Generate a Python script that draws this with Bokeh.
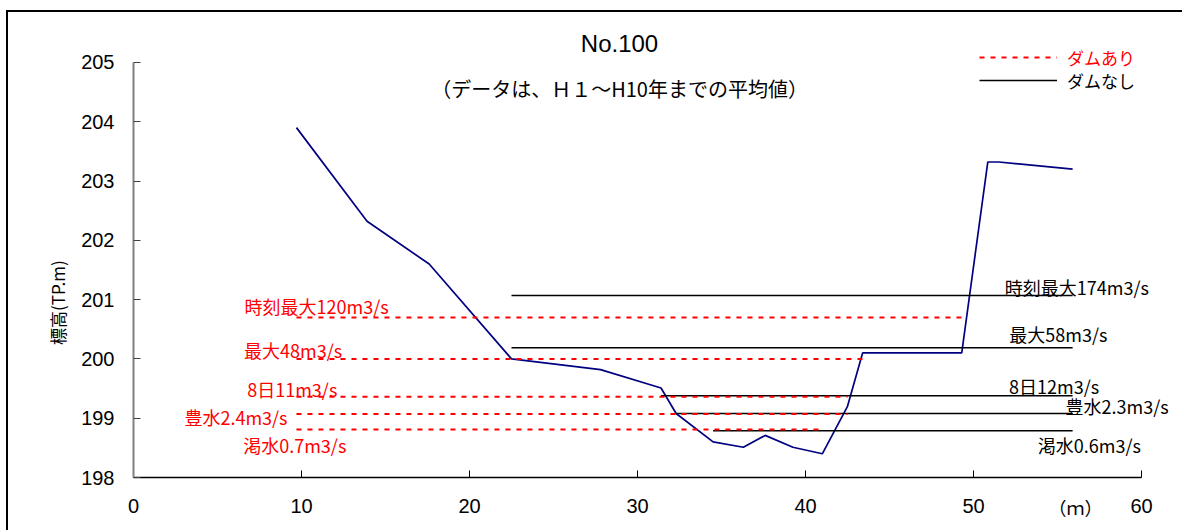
import math
from bokeh.plotting import figure
from bokeh.models import (Range1d, FixedTicker, Label, LabelSet, ColumnDataSource,
                          Legend, LegendItem)
from bokeh.embed import file_html
from bokeh.resources import INLINE
from bokeh.core.properties import value

# ---------------- data ----------------
profile_x = [9.7, 13.9, 17.6, 22.5, 27.8, 31.4, 32.3, 34.5, 36.3, 37.6, 39.25, 41.0,
             42.5, 43.4, 49.3, 50.85, 51.5, 55.9]
profile_y = [203.9, 202.32, 201.6, 200.0, 199.82, 199.51, 199.08, 198.6, 198.51, 198.71,
             198.51, 198.4, 199.2, 200.1, 200.1, 203.32, 203.32, 203.2]

red_names = ["時刻最大120m3/s", "最大48m3/s", "8日11m3/s", "豊水2.4m3/s", "渇水0.7m3/s"]
red_levels = [200.70, 200.00, 199.36, 199.07, 198.81]
red_from = [9.7, 9.7, 9.7, 9.7, 9.7]
red_to = [49.3, 43.4, 42.5, 42.5, 40.8]

black_names = ["時刻最大174m3/s", "最大58m3/s", "8日12m3/s", "豊水2.3m3/s", "渇水0.6m3/s"]
black_levels = [201.07, 200.19, 199.38, 199.08, 198.79]
black_from = [22.5, 22.5, 31.4, 32.3, 34.5]
black_to = [55.9, 55.9, 55.9, 55.9, 55.9]

x_ticks = [0, 10, 20, 30, 40, 50, 60]
y_ticks = [198, 199, 200, 201, 202, 203, 204, 205]

title_text = "No.100"
subtitle_text = "（データは、Ｈ１～H10年までの平均値）"
y_label_text = "標高(TP.m)"
x_unit_text = "（ｍ）"
legend_with = "ダムあり"
legend_without = "ダムなし"

# ---------------- layout (annotation placement) ----------------
W, H = 1176, 520          # canvas placed at page (8, 12)
AX_LEFT, AX_BOTTOM = 125, 465   # canvas position of the x=0 / y=198 axes
PX_X, PX_Y = 16.8, 59.3
x_start = x_ticks[0] - AX_LEFT / PX_X
x_end = x_ticks[0] + (W - AX_LEFT) / PX_X
y_start = y_ticks[0] - (H - AX_BOTTOM) / PX_Y
y_end = y_ticks[0] + AX_BOTTOM / PX_Y

red_label_x = [10.9, 9.5, 9.45, 6.1, 9.6]
red_label_dy = [11, 9, 8, -3, -16]
black_label_x = [56.15, 55.05, 54.8, 58.55, 56.9]
black_label_dy = [8, 14, 10, 7, -14]

JP = "Noto Sans CJK JP"
LAT = "Liberation Sans"

p = figure(width=W, height=H, output_backend="svg", toolbar_location=None,
           x_range=Range1d(x_start, x_end), y_range=Range1d(y_start, y_end),
           min_border_left=0, min_border_right=0, min_border_bottom=0,
           min_border_top=0)
p.styles = {"margin-left": "8px", "margin-top": "12px",
            "box-shadow": "-2px -2px 0 0 #000000"}
p.outline_line_color = None
p.xgrid.visible = False
p.ygrid.visible = False
p.background_fill_color = "white"
p.border_fill_color = "white"

# axes (fixed inside the frame at x=0 and y=198)
p.xaxis.fixed_location = y_ticks[0]
p.yaxis.fixed_location = x_ticks[0]
p.xaxis.bounds = (x_ticks[0], x_ticks[-1])
p.yaxis.bounds = (y_ticks[0], y_ticks[-1])
p.xaxis.ticker = FixedTicker(ticks=x_ticks)
p.yaxis.ticker = FixedTicker(ticks=y_ticks)
for ax in (p.xaxis, p.yaxis):
    ax.major_tick_in = 7
    ax.major_tick_out = 0
    ax.minor_tick_line_color = None
    ax.major_label_text_font = LAT
    ax.major_label_text_font_size = "20px"
    ax.major_label_text_color = "#000000"
p.xaxis.axis_line_color = "#000000"
p.xaxis.axis_line_width = 1.5
p.xaxis.major_tick_line_color = "#000000"
p.xaxis.major_label_standoff = 21
p.yaxis.axis_line_color = "#808080"
p.yaxis.axis_line_width = 2
p.yaxis.major_tick_line_color = "#404040"
p.yaxis.major_label_standoff = 19

# cross-section profile
p.line(profile_x, profile_y, line_color="#000080", line_width=1.7)

# water levels
red_src = ColumnDataSource(dict(x0=red_from, x1=red_to, y=red_levels, name=red_names,
                                lx=red_label_x, dy=red_label_dy))
black_src = ColumnDataSource(dict(x0=black_from, x1=black_to, y=black_levels, name=black_names,
                                  lx=black_label_x, dy=black_label_dy))
black_r = p.segment(x0="x0", y0="y", x1="x1", y1="y", source=black_src,
                    line_color="#000000", line_width=1.5)
red_r = p.segment(x0="x0", y0="y", x1="x1", y1="y", source=red_src,
                  line_color="#FF0000", line_width=2, line_dash="5 6")

p.add_layout(LabelSet(x="lx", y="y", y_offset="dy", text="name", source=red_src,
                      text_align="center", text_baseline="middle", text_color="#FF0000",
                      text_font=value(JP), text_font_size="18px"))
p.add_layout(LabelSet(x="lx", y="y", y_offset="dy", text="name", source=black_src,
                      text_align="center", text_baseline="middle", text_color="#000000",
                      text_font=value(JP), text_font_size="18px"))

# titles
p.add_layout(Label(x=28.93, y=205.32, text=title_text, text_align="center",
                   text_baseline="middle", text_font=LAT, text_font_size="24px",
                   text_color="#000000"))
p.add_layout(Label(x=28.93, y=204.56, text=subtitle_text, text_align="center",
                   text_baseline="middle", text_font=JP, text_font_size="20px",
                   text_color="#000000"))
p.add_layout(Label(x=-4.52, y=200.95, text=y_label_text, angle=math.pi / 2,
                   text_align="center", text_baseline="middle", text_font=JP,
                   text_font_size="17px", text_color="#000000"))
p.add_layout(Label(x=56.07, y=197.5, text=x_unit_text, text_align="center",
                   text_baseline="middle", text_font=JP, text_font_size="18px",
                   text_color="#000000"))

# legends (location: canvas offset of the legend's bottom-left corner)
common = dict(glyph_width=78, glyph_height=26, label_height=26, label_standoff=10,
              padding=0, margin=0, spacing=0, border_line_color=None,
              background_fill_alpha=0, label_text_font=JP, label_text_font_size="17px")
leg_red = Legend(items=[LegendItem(label=legend_with, renderers=[red_r])],
                 location=(971, 462), label_text_color="#FF0000", **common)
leg_black = Legend(items=[LegendItem(label=legend_without, renderers=[black_r])],
                   location=(971, 439), label_text_color="#000000", **common)
p.add_layout(leg_red)
p.add_layout(leg_black)

open("out.html", "w").write(file_html(p, INLINE))
